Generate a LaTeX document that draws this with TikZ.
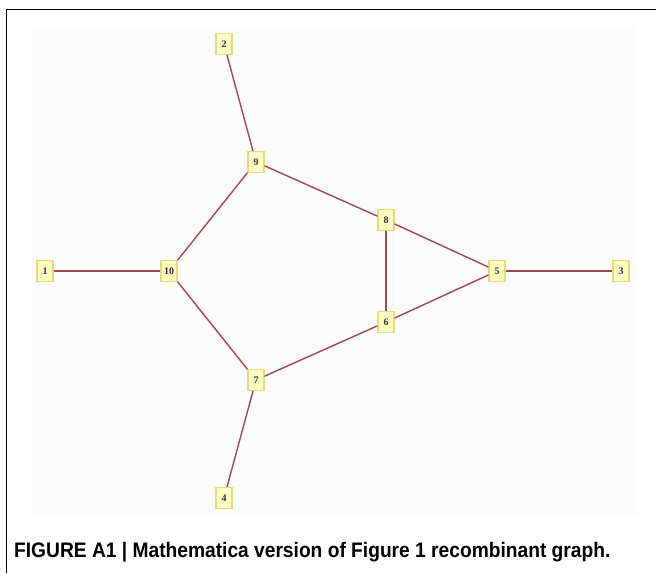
\documentclass[tikz,border=0pt]{standalone}
\usepackage{fontspec}
\setmainfont{Liberation Serif}
\newfontfamily\capfont{Liberation Sans}
\definecolor{edgecol}{HTML}{A34552}
\definecolor{boxfill}{HTML}{FFFDC2}
\definecolor{boxdraw}{HTML}{E8D97C}
\definecolor{panel}{HTML}{FCFCFC}
\definecolor{digit}{HTML}{333333}
\tikzset{
  vbox/.style={draw=boxdraw, fill=boxfill, line width=1.1pt, minimum width=16pt, minimum height=21pt, inner xsep=3pt, inner ysep=1pt, font=\fontsize{10}{11}\selectfont\bfseries, text=digit},
  link/.style={draw=edgecol, line width=1.4pt},
  frameline/.style={draw=black, line width=1.5pt}
}
\begin{document}
\begin{tikzpicture}[x=1pt, y=-1pt]
\useasboundingbox (0,0) rectangle (656,573);
\fill[panel] (31,26) rectangle (637,515);
\draw[frameline] (6.5,573) -- (6.5,9.5) -- (656,9.5);
\node[vbox] (n1) at (45,271) {1};
\node[vbox] (n10) at (169,271) {10};
\node[vbox] (n5) at (497,271) {5};
\node[vbox] (n3) at (621,271) {3};
\node[vbox] (n9) at (256,162) {9};
\node[vbox] (n7) at (256,380) {7};
\node[vbox] (n8) at (386,220) {8};
\node[vbox] (n6) at (386,322) {6};
\node[vbox] (n2) at (224,44) {2};
\node[vbox] (n4) at (224,498) {4};
\draw[link] (n1) -- (n10);
\draw[link] (n10) -- (n9);
\draw[link] (n10) -- (n7);
\draw[link] (n9) -- (n2);
\draw[link] (n7) -- (n4);
\draw[link] (n9) -- (n8);
\draw[link] (n7) -- (n6);
\draw[link] (n8) -- (n6);
\draw[link] (n8) -- (n5);
\draw[link] (n6) -- (n5);
\draw[link] (n5) -- (n3);
\node[anchor=base west, inner sep=0pt, xscale=0.914, font=\capfont\fontsize{21}{24}\selectfont\bfseries] (cap) at (14,557) {FIGURE A1 | Mathematica version of Figure 1 recombinant graph.};
\end{tikzpicture}
\end{document}
